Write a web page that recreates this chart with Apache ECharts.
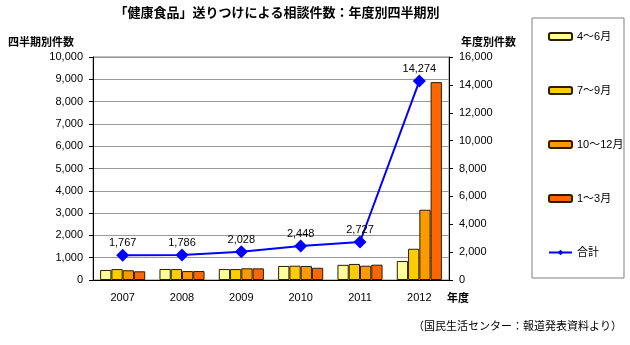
<!DOCTYPE html>
<html><head><meta charset="utf-8">
<script src="https://cdn.jsdelivr.net/npm/echarts@6/dist/echarts.min.js"></script>
<style>html,body{margin:0;padding:0;background:#fff}#c{width:630px;height:345px}</style>
</head><body><div id="c"></div>
<script>
const years = ['2007','2008','2009','2010','2011','2012'];
const q1 = [450, 495, 490, 630, 680, 850];     // 4～6月
const q2 = [490, 490, 490, 640, 720, 1400];    // 7～9月
const q3 = [437, 400, 525, 630, 640, 3150];    // 10～12月
const q4 = [390, 401, 523, 548, 687, 8874];    // 1～3月
const totals = [1767, 1786, 2028, 2448, 2727, 14274];
const leftTicks = {min: 0, max: 10000, interval: 1000};
const rightTicks = {min: 0, max: 16000, interval: 2000};

const FONT = '"Liberation Sans", "Noto Sans CJK JP", sans-serif';
const fmt = v => Number(v).toLocaleString('en-US');
const chart = echarts.init(document.getElementById('c'), null, {renderer: 'canvas'});
const barStyle = c => ({color: c, borderColor: '#2a1e08', borderWidth: 1});
const mkBar = (name, data, c) => ({
  name, type: 'bar', data, yAxisIndex: 0, barGap: '0%', barCategoryGap: '24%',
  itemStyle: barStyle(c)
});
chart.setOption({
  animation: false,
  textStyle: {fontFamily: FONT},
  title: {text: '「健康食品」送りつけによる相談件数：年度別四半期別', left: 272, textAlign: 'center', top: 2,
    textStyle: {fontSize: 13, fontWeight: 'bold', color: '#000', fontFamily: FONT}},
  grid: {left: 93, right: 181, top: 57, bottom: 65, show: true, borderColor: '#808080', borderWidth: 1},
  legend: {
    orient: 'vertical', left: 543, top: 26, itemWidth: 23, itemHeight: 7, itemGap: 43,
    textStyle: {fontSize: 11, color: '#000', fontFamily: FONT},
    data: ['4～6月', '7～9月', '10～12月', '1～3月', '合計']
  },
  xAxis: {
    type: 'category', data: years,
    axisLine: {lineStyle: {color: '#000'}},
    axisTick: {inside: true, length: 3, lineStyle: {color: '#555'}},
    axisLabel: {color: '#000', fontSize: 11, margin: 12}
  },
  yAxis: [
    {type: 'value', min: leftTicks.min, max: leftTicks.max, interval: leftTicks.interval,
     axisLine: {show: true, lineStyle: {color: '#000'}},
     axisTick: {show: true, length: 4, lineStyle: {color: '#000'}},
     splitLine: {lineStyle: {color: '#999'}},
     axisLabel: {color: '#000', fontSize: 11, formatter: fmt, margin: 10}},
    {type: 'value', min: rightTicks.min, max: rightTicks.max, interval: rightTicks.interval,
     position: 'right',
     axisLine: {show: true, lineStyle: {color: '#000'}},
     axisTick: {show: true, length: 4, lineStyle: {color: '#000'}},
     splitLine: {show: false},
     axisLabel: {color: '#000', fontSize: 11, formatter: fmt, margin: 10}}
  ],
  series: [
    mkBar('4～6月', q1, '#FFFF99'),
    mkBar('7～9月', q2, '#FFCC00'),
    mkBar('10～12月', q3, '#FF9900'),
    mkBar('1～3月', q4, '#FF6600'),
    {name: '合計', type: 'line', yAxisIndex: 1, data: totals,
     symbol: 'diamond', symbolSize: 13,
     lineStyle: {color: '#0000FF', width: 2}, itemStyle: {color: '#0000FF'},
     label: {show: true, position: 'top', distance: 0, color: '#000', fontSize: 11, formatter: p => fmt(p.value)}}
  ],
  graphic: [
    {type: 'rect', shape: {x: 532, y: 18, width: 92, height: 260}, style: {fill: 'none', stroke: '#808080', lineWidth: 1}, z: -1},
    {type: 'text', left: 8, top: 37, style: {text: '四半期別件数', fill: '#000', font: 'bold 11px ' + FONT}},
    {type: 'text', left: 461, top: 37, style: {text: '年度別件数', fill: '#000', font: 'bold 11px ' + FONT}},
    {type: 'text', left: 447, top: 293, style: {text: '年度', fill: '#000', font: 'bold 11px ' + FONT}},
    {type: 'text', left: 413, top: 321, style: {text: '（国民生活センター：報道発表資料より）', fill: '#000', font: '11px ' + FONT}}
  ]
});
</script></body></html>
